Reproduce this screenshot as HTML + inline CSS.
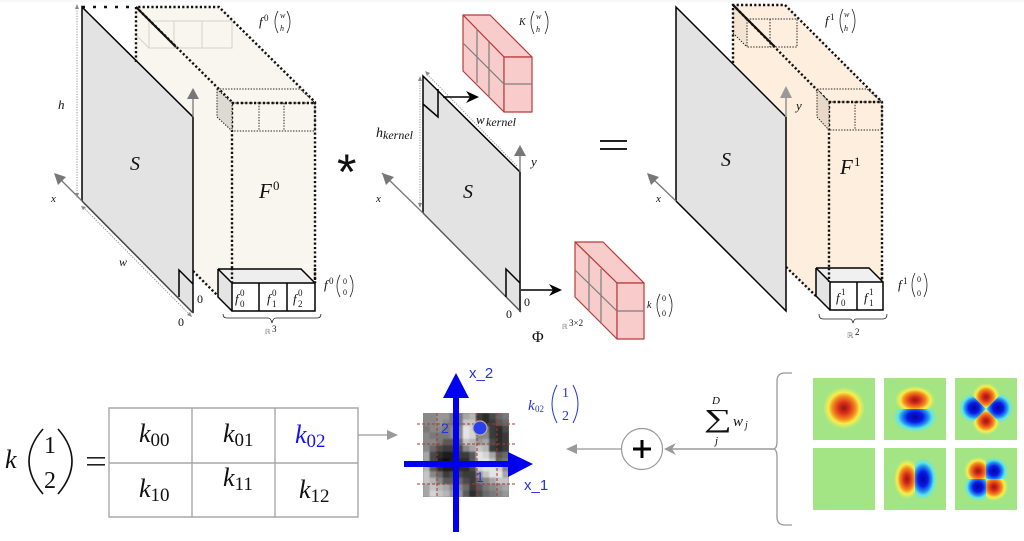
<!DOCTYPE html>
<html><head><meta charset="utf-8"><style>
html,body{margin:0;padding:0;background:#fff}
svg{display:block}
text{font-family:"Liberation Serif",serif;fill:#111}
.i{font-style:italic}
.d{fill:none;stroke:#111;stroke-width:2.4;stroke-dasharray:2.2 2.2}
.t{fill:none;stroke:#222;stroke-width:1;stroke-dasharray:1.4 1.4}
.s{fill:none;stroke:#000;stroke-width:1.5}
.g{fill:none;stroke:#777;stroke-width:1.3}
.p{fill:none;stroke:#222;stroke-width:.8}
.r{fill:#f7cccb;stroke:#b83a3a;stroke-width:1.2;stroke-linejoin:round}
.m{fill:none;stroke:#7c7c7c;stroke-width:1.2}
.h{fill:none;stroke:#888;stroke-width:.9;stroke-dasharray:1.2 1.4}
.k{font-size:26px;font-style:italic}
.sb{font-size:19px;font-style:normal}
.rd{fill:none;stroke:#a33a30;stroke-width:1;stroke-dasharray:3 2}
</style></head><body>
<svg width="1024" height="541" viewBox="0 0 1024 541" xmlns="http://www.w3.org/2000/svg">
<defs>
<radialGradient id="rg"><stop offset="0" stop-color="#8a1c12"/><stop offset=".25" stop-color="#d92a1a"/><stop offset=".55" stop-color="#f28a1e"/><stop offset=".75" stop-color="#f6ee4a"/><stop offset="1" stop-color="#a3e585"/></radialGradient>
<radialGradient id="bg"><stop offset="0" stop-color="#06069a"/><stop offset=".35" stop-color="#0a18e8"/><stop offset=".6" stop-color="#1f8cf0"/><stop offset=".78" stop-color="#5fe6e6"/><stop offset="1" stop-color="#a3e585"/></radialGradient>
<clipPath id="c2t"><rect x="884" y="378" width="62" height="31"/></clipPath>
<clipPath id="c2b"><rect x="884" y="409" width="62" height="31"/></clipPath>
<clipPath id="c5l"><rect x="884" y="448" width="31" height="62"/></clipPath>
<clipPath id="c5r"><rect x="915" y="448" width="31" height="62"/></clipPath>
<clipPath id="c3t"><polygon points="955,378 1017,378 986,409"/></clipPath>
<clipPath id="c3b"><polygon points="955,440 1017,440 986,409"/></clipPath>
<clipPath id="c3l"><polygon points="955,378 955,440 986,409"/></clipPath>
<clipPath id="c3r"><polygon points="1017,378 1017,440 986,409"/></clipPath>
<clipPath id="q1"><rect x="955" y="448" width="31" height="31"/></clipPath>
<clipPath id="q2"><rect x="986" y="448" width="31" height="31"/></clipPath>
<clipPath id="q3"><rect x="955" y="479" width="31" height="31"/></clipPath>
<clipPath id="q4"><rect x="986" y="479" width="31" height="31"/></clipPath>
<filter id="bl" color-interpolation-filters="sRGB"><feGaussianBlur stdDeviation=".13"/></filter>
</defs>
<rect width="1024" height="541" fill="#fff"/>
<rect width="1024" height="2" fill="#f8f8f8"/>

<!-- LEFT BLOCK -->
<polygon points="136,7 219,7 315,102 315,283 232,283 217,296 193,271 193,117 136,62" fill="#f8f6ee"/>
<g fill="none" stroke="#d6d3c8" stroke-width="1"><path d="M136,7 L149,21 H232 V48 H149 V21 M174,21 V48 M202,21 V48 M136,35 L149,48"/></g>
<polygon points="82,7 193,117 193,313 82,201" fill="#e3e3e3"/>
<path class="s" d="M82,201 V7 L193,117 V313"/>
<path d="M82,201 L193,313" fill="none" stroke="#444" stroke-width="1.5"/>
<path class="s" d="M179,297 V270 L193,284"/>
<path d="M82,7 H136" fill="none" stroke="#111" stroke-width="2.5" stroke-dasharray="3 8"/>
<path class="d" d="M136,62 V7 H219 L315,102 V283"/>
<path class="d" d="M136,7 L232,102 V283" />
<path d="M136,7 L176,47" stroke="#111" stroke-width="2" fill="none"/>
<path class="d" d="M193,271 L218,296"/>
<polygon points="217,89 232,103 232,131 217,117" fill="#dcdad2"/>
<path class="t" d="M232,103 H315 V131 H232 Z M217,89 H300 L315,103 M217,89 L232,103 M217,89 V117 L232,131 M259,103 V131 M284,103 V131"/>
<path class="d" d="M232,103 H315"/>
<polygon points="218,269 301,269 315,283 232,283" fill="#eee"/>
<polygon points="218,269 232,283 232,311 218,297" fill="#e4e4e4"/>
<rect x="232" y="283" width="83" height="28" fill="#fff"/>
<path class="s" d="M232,283 H315 V311 H232 Z M218,269 H301 L315,283 M218,269 L232,283 M218,269 V297 L232,311 M259,283 V311 M287,283 V311"/>
<path class="d" d="M232,268 V283 M315,268 V283"/>
<path class="p" d="M223,314 Q223,318 227,318 H268 Q271,318 272,323 Q273,318 276,318 H317 Q321,318 321,314"/>
<!-- axes -->
<path class="g" d="M193,117 V96"/><polygon points="193,88 187,99 199,99" fill="#777"/>
<path class="g" d="M82,201 L60,179"/><polygon points="54,173 66,177 58,185" fill="#777"/>
<path class="h" d="M77,8 V197"/><polygon points="77,4 75,9 79,9" fill="#888"/>
<polygon points="77,198 75,193 79,193" fill="#888"/>
<path class="h" d="M83,207 L190,315"/><polygon points="81,206 86,207 83,210" fill="#888"/><polygon points="192,317 187,315 190,312" fill="#888"/>
<text class="i" x="58" y="109" font-size="13">h</text>
<text class="i" x="130" y="170" font-size="20">S</text>
<text class="i" x="51" y="202" font-size="11">x</text>
<text class="i" x="119" y="266" font-size="12">w</text>
<text x="197" y="303" font-size="12">0</text>
<text x="178" y="326" font-size="12">0</text>
<text class="i" x="259" y="198" font-size="21">F</text><text x="273" y="190" font-size="13">0</text>
<text class="i" x="259" y="26" font-size="13">f</text><text x="264" y="21" font-size="9">0</text>
<path class="p" d="M278,11 Q272,22 278,33 M287,11 Q293,22 287,33"/>
<text class="i" x="280" y="18" font-size="8">w</text><text class="i" x="280" y="31" font-size="8">h</text>
<text class="i" x="324" y="289" font-size="13">f</text><text x="329" y="284" font-size="9">0</text>
<path class="p" d="M340,275 Q334,286 340,297 M350,275 Q356,286 350,297"/>
<text x="343" y="284" font-size="8">0</text><text x="343" y="295" font-size="8">0</text>
<text class="i" x="235" y="303" font-size="13">f</text><text x="240" y="296" font-size="9">0</text><text x="240" y="307" font-size="9">0</text>
<text class="i" x="267" y="303" font-size="13">f</text><text x="272" y="296" font-size="9">0</text><text x="272" y="307" font-size="9">1</text>
<text class="i" x="293" y="303" font-size="13">f</text><text x="298" y="296" font-size="9">0</text><text x="298" y="307" font-size="9">2</text>
<text x="265" y="334" font-size="7" style="fill:#777">ℝ</text><text x="272" y="332" font-size="9">3</text>

<!-- ASTERISK / EQUAL -->
<text x="337" y="189" font-size="50" style="font-family:'Liberation Sans',sans-serif">*</text>
<rect x="600" y="140" width="27" height="2" fill="#222"/><rect x="600" y="148" width="27" height="2" fill="#222"/>

<!-- MIDDLE -->
<polygon points="423,76 520,172 521,312 423,213" fill="#e3e3e3"/>
<path class="s" d="M423,213 V76 L520,172 V312"/>
<path d="M423,213 L382,173" class="g"/>
<path d="M423,213 L521,312" fill="none" stroke="#555" stroke-width="1.4"/>
<polygon points="382,173 394,177 386,185" fill="#777"/>
<path class="s" d="M423,104 L438,117 V89"/>
<path class="s" d="M506,297 V269 L520,283"/>
<path class="g" d="M520,172 V153"/><polygon points="520,145 514,156 526,156" fill="#777"/>
<path class="h" d="M420,80 V204"/><polygon points="420,76 418,81 422,81" fill="#888"/><polygon points="420,208 418,203 422,203" fill="#888"/>
<path class="h" d="M427,74 L518,167"/><polygon points="425,71 430,73 427,76" fill="#888"/>
<path d="M443,97 H470" stroke="#000" stroke-width="1.4"/><polygon points="479,97 466,91 470,97 466,103" fill="#000"/>
<path d="M521,290 H554" stroke="#000" stroke-width="1.4"/><polygon points="562,290 549,284 553,290 549,296" fill="#000"/>
<text class="i" x="376" y="137" font-size="14">h</text><text class="i" x="383" y="139" font-size="12">kernel</text>
<text class="i" x="476" y="124" font-size="13">w</text><text class="i" x="486" y="126" font-size="12">kernel</text>
<text class="i" x="531" y="166" font-size="13">y</text>
<text class="i" x="376" y="202" font-size="11">x</text>
<text class="i" x="463" y="198" font-size="20">S</text>
<text x="524" y="306" font-size="12">0</text><text x="506" y="318" font-size="12">0</text>
<text x="532" y="342" font-size="16">Φ</text>
<text x="562" y="329" font-size="7" style="fill:#777">ℝ</text><text x="569" y="326" font-size="9">3×2</text>
<!-- red boxes -->
<polygon class="r" points="463,15 490,15 532,57 504,57"/>
<polygon class="r" points="463,15 504,57 504,112 463,71"/>
<rect class="r" x="504" y="57" width="28" height="55"/>
<path class="m" d="M463,43 L504,84 H532 M477,29 V83 M489,42 V97"/>
<polygon class="r" points="575,242 603,242 644,283 617,283"/>
<polygon class="r" points="575,242 617,283 617,339 575,297"/>
<rect class="r" x="617" y="283" width="27" height="56"/>
<path class="m" d="M575,270 L617,311 H644 M589,256 V310 M601,269 V324"/>
<text class="i" x="519" y="25" font-size="10">K</text>
<path class="p" d="M534,11 Q528,22 534,34 M545,11 Q551,22 545,34"/>
<text class="i" x="536" y="19" font-size="8">w</text><text class="i" x="536" y="32" font-size="8">h</text>
<text class="i" x="647" y="308" font-size="10">k</text>
<path class="p" d="M660,294 Q654,305 660,317 M669,294 Q675,305 669,317"/>
<text x="662" y="301" font-size="8">0</text><text x="662" y="316" font-size="8">0</text>

<!-- RIGHT -->
<polygon points="733,5 785,5 882,102 882,282 830,282 815,296 786,267 786,117 733,63" fill="#fdeedd"/>
<polygon points="733,5 747,19 747,47 733,33" fill="#f4e3d0"/>
<polygon points="676,7 786,117 786,311 676,201" fill="#e3e3e3"/>
<path class="s" d="M676,201 V7 L786,117 V311 L676,201"/>
<path class="t" d="M747,19 H797 V47 H747 Z M733,33 L747,47"/>
<path d="M770,19 V47" stroke="#222" stroke-width="1" stroke-dasharray="1.5 1.5"/>
<path class="d" d="M733,63 V5 H785 L882,102 V282"/>
<path class="d" d="M733,5 L829,102 V282"/>
<path d="M733,5 L775,47" stroke="#111" stroke-width="2.2" fill="none"/>
<path class="d" d="M786,267 L816,296"/>
<polygon points="817,89 829,103 829,130 817,117" fill="#e8d8c8"/>
<path class="t" d="M829,102 H882 V130 H829 Z M817,89 H867 L882,102 M817,89 L829,102 M817,89 V117 L829,130 M855,102 V130"/>
<path class="d" d="M829,102 H882"/>
<polygon points="816,268 869,268 883,282 830,282" fill="#f0f0f0"/>
<polygon points="816,268 830,282 830,310 816,296" fill="#e4e4e4"/>
<rect x="830" y="282" width="53" height="28" fill="#fff"/>
<path class="s" d="M830,282 H883 V310 H830 Z M816,268 H869 L883,282 M816,268 L830,282 M816,268 V296 L830,310 M857,282 V310"/>
<path class="d" d="M829,268 V282 M882,268 V282"/>
<path class="p" d="M819,314 Q819,319 823,319 H850 Q852,319 853,323 Q854,319 856,319 H883 Q887,319 887,314"/>
<path d="M786,117 V96" stroke="#999" stroke-width="1.6"/><polygon points="786,86 780,98 792,98" fill="#999"/>
<path class="g" d="M676,201 L653,179"/><polygon points="647,173 659,177 651,185" fill="#777"/>
<text class="i" x="796" y="110" font-size="13">y</text>
<text class="i" x="721" y="166" font-size="20">S</text>
<text class="i" x="656" y="202" font-size="11">x</text>
<text class="i" x="840" y="174" font-size="21">F</text><text x="854" y="166" font-size="13">1</text>
<text class="i" x="825" y="25" font-size="13">f</text><text x="830" y="20" font-size="9">1</text>
<path class="p" d="M843,9 Q837,21 843,33 M852,9 Q858,21 852,33"/>
<text class="i" x="844" y="17" font-size="8">w</text><text class="i" x="844" y="31" font-size="8">h</text>
<text class="i" x="898" y="289" font-size="13">f</text><text x="903" y="284" font-size="9">1</text>
<path class="p" d="M915,273 Q909,285 915,297 M924,273 Q930,285 924,297"/>
<text x="917" y="282" font-size="8">0</text><text x="917" y="296" font-size="8">0</text>
<text class="i" x="836" y="302" font-size="13">f</text><text x="841" y="295" font-size="9">1</text><text x="841" y="306" font-size="9">0</text>
<text class="i" x="864" y="302" font-size="13">f</text><text x="869" y="295" font-size="9">1</text><text x="869" y="306" font-size="9">1</text>
<text x="847" y="338" font-size="8" style="fill:#777">ℝ</text><text x="855" y="335" font-size="9">2</text>

<!-- TABLE -->
<path d="M109,408 H358 V517 H109 Z M109,463 H358 M192,408 V517 M275,408 V517" fill="none" stroke="#a8a8a8" stroke-width="1.4"/>
<text class="k" x="139" y="442">k<tspan class="sb" dy="4">00</tspan></text>
<text class="k" x="223" y="442">k<tspan class="sb" dy="4">01</tspan></text>
<text class="k" x="295" y="443" style="fill:#1414ee">k<tspan class="sb" dy="4" style="fill:#1414ee">02</tspan></text>
<text class="k" x="139" y="497">k<tspan class="sb" dy="4">10</tspan></text>
<text class="k" x="223" y="486">k<tspan class="sb" dy="4">11</tspan></text>
<text class="k" x="299" y="498">k<tspan class="sb" dy="4">12</tspan></text>
<text class="k" x="5" y="468">k</text>
<path d="M43,429 Q15,461 43,494 M58,429 Q86,461 58,494" fill="none" stroke="#111" stroke-width="1.6"/>
<text x="44" y="453" font-size="24">1</text><text x="44" y="488" font-size="24">2</text>
<rect x="87" y="457" width="18" height="1.6" fill="#222"/><rect x="87" y="464" width="18" height="1.6" fill="#222"/>
<path d="M358,435 H390" stroke="#999" stroke-width="1.3"/><polygon points="398,435 387,430 387,440" fill="#999"/>

<!-- GREY PATCH -->
<svg x="423" y="413" width="86" height="84" viewBox="0 0 13 13" preserveAspectRatio="none">
<rect width="13" height="13" fill="#888"/>
<g filter="url(#bl)" opacity=".9">
<g transform="translate(0,0)"><rect x="0" width="2.1" height="1.1" fill="#888"/><rect x="2" width="2.1" height="1.1" fill="#999"/><rect x="4" width="2.1" height="1.1" fill="#777"/><rect x="6" width="1.1" height="1.1" fill="#aaa"/><rect x="7" width="1.1" height="1.1" fill="#bbb"/><rect x="8" width="1.1" height="1.1" fill="#333"/><rect x="9" width="1.1" height="1.1" fill="#222"/><rect x="10" width="1.1" height="1.1" fill="#444"/><rect x="11" width="1.1" height="1.1" fill="#666"/><rect x="12" width="1" height="1.1" fill="#777"/></g>
<g transform="translate(0,1)"><rect x="0" width="2.1" height="1.1" fill="#888"/><rect x="2" width="1.1" height="1.1" fill="#999"/><rect x="3" width="1.1" height="1.1" fill="#888"/><rect x="4" width="2.1" height="1.1" fill="#777"/><rect x="6" width="2.1" height="1.1" fill="#ccc"/><rect x="8" width="1.1" height="1.1" fill="#333"/><rect x="9" width="1.1" height="1.1" fill="#222"/><rect x="10" width="1.1" height="1.1" fill="#333"/><rect x="11" width="1.1" height="1.1" fill="#555"/><rect x="12" width="1" height="1.1" fill="#666"/></g>
<g transform="translate(0,2)"><rect x="0" width="1.1" height="1.1" fill="#777"/><rect x="1" width="2.1" height="1.1" fill="#888"/><rect x="3" width="1.1" height="1.1" fill="#777"/><rect x="4" width="2.1" height="1.1" fill="#888"/><rect x="6" width="1.1" height="1.1" fill="#eee"/><rect x="7" width="1.1" height="1.1" fill="#ddd"/><rect x="8" width="1.1" height="1.1" fill="#555"/><rect x="9" width="1.1" height="1.1" fill="#777"/><rect x="10" width="1.1" height="1.1" fill="#333"/><rect x="11" width="1.1" height="1.1" fill="#222"/><rect x="12" width="1" height="1.1" fill="#444"/></g>
<g transform="translate(0,3)"><rect x="0" width="1.1" height="1.1" fill="#888"/><rect x="1" width="3.1" height="1.1" fill="#777"/><rect x="4" width="2.1" height="1.1" fill="#888"/><rect x="6" width="1.1" height="1.1" fill="#eee"/><rect x="7" width="1.1" height="1.1" fill="#ddd"/><rect x="8" width="2.1" height="1.1" fill="#888"/><rect x="10" width="1.1" height="1.1" fill="#333"/><rect x="11" width="1.1" height="1.1" fill="#222"/><rect x="12" width="1" height="1.1" fill="#333"/></g>
<g transform="translate(0,4)"><rect x="0" width="2.1" height="1.1" fill="#888"/><rect x="2" width="1.1" height="1.1" fill="#777"/><rect x="3" width="2.1" height="1.1" fill="#555"/><rect x="5" width="1.1" height="1.1" fill="#666"/><rect x="6" width="1.1" height="1.1" fill="#ccc"/><rect x="7" width="1.1" height="1.1" fill="#bbb"/><rect x="8" width="1.1" height="1.1" fill="#999"/><rect x="9" width="1.1" height="1.1" fill="#aaa"/><rect x="10" width="1.1" height="1.1" fill="#444"/><rect x="11" width="1.1" height="1.1" fill="#222"/><rect x="12" width="1" height="1.1" fill="#333"/></g>
<g transform="translate(0,5)"><rect x="0" width="1.1" height="1.1" fill="#888"/><rect x="1" width="1.1" height="1.1" fill="#666"/><rect x="2" width="1.1" height="1.1" fill="#444"/><rect x="3" width="2.1" height="1.1" fill="#333"/><rect x="5" width="1.1" height="1.1" fill="#444"/><rect x="6" width="1.1" height="1.1" fill="#888"/><rect x="7" width="1.1" height="1.1" fill="#aaa"/><rect x="8" width="1.1" height="1.1" fill="#ccc"/><rect x="9" width="1.1" height="1.1" fill="#bbb"/><rect x="10" width="1.1" height="1.1" fill="#333"/><rect x="11" width="1.1" height="1.1" fill="#222"/><rect x="12" width="1" height="1.1" fill="#333"/></g>
<g transform="translate(0,6)"><rect x="0" width="1.1" height="1.1" fill="#aaa"/><rect x="1" width="1.1" height="1.1" fill="#444"/><rect x="2" width="1.1" height="1.1" fill="#222"/><rect x="3" width="2.1" height="1.1" fill="#111"/><rect x="5" width="2.1" height="1.1" fill="#333"/><rect x="7" width="1.1" height="1.1" fill="#555"/><rect x="8" width="1.1" height="1.1" fill="#eee"/><rect x="9" width="1.1" height="1.1" fill="#ddd"/><rect x="10" width="1.1" height="1.1" fill="#aaa"/><rect x="11" width="1.1" height="1.1" fill="#555"/><rect x="12" width="1" height="1.1" fill="#666"/></g>
<g transform="translate(0,7)"><rect x="0" width="1.1" height="1.1" fill="#aaa"/><rect x="1" width="1.1" height="1.1" fill="#444"/><rect x="2" width="1.1" height="1.1" fill="#111"/><rect x="3" width="1.1" height="1.1" fill="#000"/><rect x="4" width="1.1" height="1.1" fill="#111"/><rect x="5" width="2.1" height="1.1" fill="#222"/><rect x="7" width="1.1" height="1.1" fill="#555"/><rect x="8" width="2.1" height="1.1" fill="#eee"/><rect x="10" width="1.1" height="1.1" fill="#ccc"/><rect x="11" width="1.1" height="1.1" fill="#666"/><rect x="12" width="1" height="1.1" fill="#777"/></g>
<g transform="translate(0,8)"><rect x="0" width="1.1" height="1.1" fill="#bbb"/><rect x="1" width="1.1" height="1.1" fill="#555"/><rect x="2" width="1.1" height="1.1" fill="#222"/><rect x="3" width="2.1" height="1.1" fill="#111"/><rect x="5" width="2.1" height="1.1" fill="#222"/><rect x="7" width="1.1" height="1.1" fill="#444"/><rect x="8" width="1.1" height="1.1" fill="#ddd"/><rect x="9" width="2.1" height="1.1" fill="#eee"/><rect x="11" width="1.1" height="1.1" fill="#ddd"/><rect x="12" width="1" height="1.1" fill="#888"/></g>
<g transform="translate(0,9)"><rect x="0" width="1.1" height="1.1" fill="#ccc"/><rect x="1" width="1.1" height="1.1" fill="#888"/><rect x="2" width="1.1" height="1.1" fill="#666"/><rect x="3" width="1.1" height="1.1" fill="#333"/><rect x="4" width="2.1" height="1.1" fill="#444"/><rect x="6" width="2.1" height="1.1" fill="#333"/><rect x="8" width="1.1" height="1.1" fill="#999"/><rect x="9" width="1.1" height="1.1" fill="#ccc"/><rect x="10" width="2.1" height="1.1" fill="#eee"/><rect x="12" width="1" height="1.1" fill="#aaa"/></g>
<g transform="translate(0,10)"><rect x="0" width="1.1" height="1.1" fill="#ccc"/><rect x="1" width="1.1" height="1.1" fill="#bbb"/><rect x="2" width="1.1" height="1.1" fill="#888"/><rect x="3" width="2.1" height="1.1" fill="#555"/><rect x="5" width="1.1" height="1.1" fill="#666"/><rect x="6" width="1.1" height="1.1" fill="#444"/><rect x="7" width="1.1" height="1.1" fill="#333"/><rect x="8" width="1.1" height="1.1" fill="#777"/><rect x="9" width="1.1" height="1.1" fill="#888"/><rect x="10" width="1.1" height="1.1" fill="#aaa"/><rect x="11" width="2" height="1.1" fill="#ccc"/></g>
<g transform="translate(0,11)"><rect x="0" width="1.1" height="1.1" fill="#aaa"/><rect x="1" width="1.1" height="1.1" fill="#ccc"/><rect x="2" width="1.1" height="1.1" fill="#bbb"/><rect x="3" width="1.1" height="1.1" fill="#aaa"/><rect x="4" width="2.1" height="1.1" fill="#888"/><rect x="6" width="1.1" height="1.1" fill="#666"/><rect x="7" width="1.1" height="1.1" fill="#333"/><rect x="8" width="1.1" height="1.1" fill="#555"/><rect x="9" width="1.1" height="1.1" fill="#777"/><rect x="10" width="1.1" height="1.1" fill="#888"/><rect x="11" width="1.1" height="1.1" fill="#999"/><rect x="12" width="1" height="1.1" fill="#aaa"/></g>
<g transform="translate(0,12)"><rect x="0" width="1.1" height="1" fill="#aaa"/><rect x="1" width="1.1" height="1" fill="#ddd"/><rect x="2" width="1.1" height="1" fill="#ccc"/><rect x="3" width="1.1" height="1" fill="#bbb"/><rect x="4" width="2.1" height="1" fill="#999"/><rect x="6" width="1.1" height="1" fill="#555"/><rect x="7" width="1.1" height="1" fill="#222"/><rect x="8" width="1.1" height="1" fill="#444"/><rect x="9" width="1.1" height="1" fill="#666"/><rect x="10" width="1.1" height="1" fill="#777"/><rect x="11" width="1.1" height="1" fill="#888"/><rect x="12" width="1" height="1" fill="#999"/></g>
</g>
</svg>
<path class="rd" d="M417,424 H516 M417,444 H516 M417,484 H516 M437,413 V498 M477,413 V498 M497,413 V498"/>
<rect x="453" y="394" width="6" height="138" fill="#0000f0"/>
<polygon points="456,373 443,398 469,398" fill="#0000f0"/>
<rect x="404" y="461" width="108" height="6" fill="#0000f0"/>
<polygon points="533,464 508,452 508,477" fill="#0000f0"/>
<circle cx="480" cy="428" r="7" fill="#2a3ff0" stroke="#b5b09a" stroke-width="1.2"/>
<text x="441" y="433" font-size="14" style="font-family:'Liberation Sans',sans-serif;fill:#2233e0">2</text>
<text x="476" y="482" font-size="14" style="font-family:'Liberation Sans',sans-serif;fill:#2233e0">1</text>
<text x="469" y="378" font-size="15" style="font-family:'Liberation Sans',sans-serif;fill:#2233e0">x_2</text>
<text x="524" y="490" font-size="15" style="font-family:'Liberation Sans',sans-serif;fill:#2233e0">x_1</text>
<text class="i" x="528" y="410" font-size="15" style="fill:#2233e0">k</text><text x="535" y="412" font-size="9" style="fill:#2233e0">02</text>
<path d="M557,385 Q547,404 557,423 M573,385 Q583,404 573,423" fill="none" stroke="#2233e0" stroke-width="1"/>
<text x="562" y="397" font-size="14" style="fill:#2233e0">1</text><text x="562" y="420" font-size="14" style="fill:#2233e0">2</text>

<!-- PLUS + SUM -->
<path d="M574,449 H621" stroke="#999" stroke-width="1.3"/><polygon points="566,449 577,444 577,454" fill="#999"/>
<circle cx="642" cy="449" r="20.5" fill="#fff" stroke="#999" stroke-width="1.2"/>
<path d="M633,449 H651 M642,440 V458" stroke="#000" stroke-width="3" fill="none"/>
<path d="M672,449 H773" stroke="#999" stroke-width="1.4"/><polygon points="664,449 676,443 672,449 676,455" fill="#999"/>
<path d="M792,373 H785 Q777,373 777,381 V441 Q777,449 773,449 Q777,449 777,457 V517 Q777,525 785,525 H792" fill="none" stroke="#999" stroke-width="1.3"/>
<text transform="translate(704,427) scale(1.5,1)" font-size="26">∑</text>
<text class="i" x="712" y="404" font-size="11">D</text>
<text class="i" x="715" y="444" font-size="11">j</text>
<text class="i" x="733" y="426" font-size="15">w</text><text class="i" x="745" y="428" font-size="10">j</text>

<!-- COLOUR MAPS -->
<g fill="#a3e585">
<rect x="813" y="378" width="62" height="62"/><rect x="884" y="378" width="62" height="62"/><rect x="955" y="378" width="62" height="62"/>
<rect x="813" y="448" width="62" height="62"/><rect x="884" y="448" width="62" height="62"/><rect x="955" y="448" width="62" height="62"/>
</g>
<circle cx="844" cy="408" r="21" fill="url(#rg)"/>
<g clip-path="url(#c2t)"><ellipse cx="915" cy="400" rx="20" ry="14" fill="url(#rg)"/></g>
<g clip-path="url(#c2b)"><ellipse cx="915" cy="417" rx="22" ry="15" fill="url(#bg)"/></g>
<g clip-path="url(#c5l)"><ellipse cx="907" cy="479" rx="13" ry="20" fill="url(#rg)"/></g>
<g clip-path="url(#c5r)"><ellipse cx="923" cy="479" rx="14" ry="21" fill="url(#bg)"/></g>
<g clip-path="url(#c3l)"><circle cx="974" cy="408" r="15" fill="url(#bg)"/></g>
<g clip-path="url(#c3r)"><circle cx="998" cy="408" r="15" fill="url(#bg)"/></g>
<g clip-path="url(#c3t)"><circle cx="986" cy="397" r="14" fill="url(#rg)"/></g>
<g clip-path="url(#c3b)"><circle cx="986" cy="421" r="14" fill="url(#rg)"/></g>
<g clip-path="url(#q1)"><circle cx="978" cy="471" r="14" fill="url(#rg)"/></g>
<g clip-path="url(#q4)"><circle cx="994" cy="487" r="14" fill="url(#rg)"/></g>
<g clip-path="url(#q2)"><circle cx="994" cy="471" r="14" fill="url(#bg)"/></g>
<g clip-path="url(#q3)"><circle cx="978" cy="487" r="14" fill="url(#bg)"/></g>
</svg>
</body></html>
